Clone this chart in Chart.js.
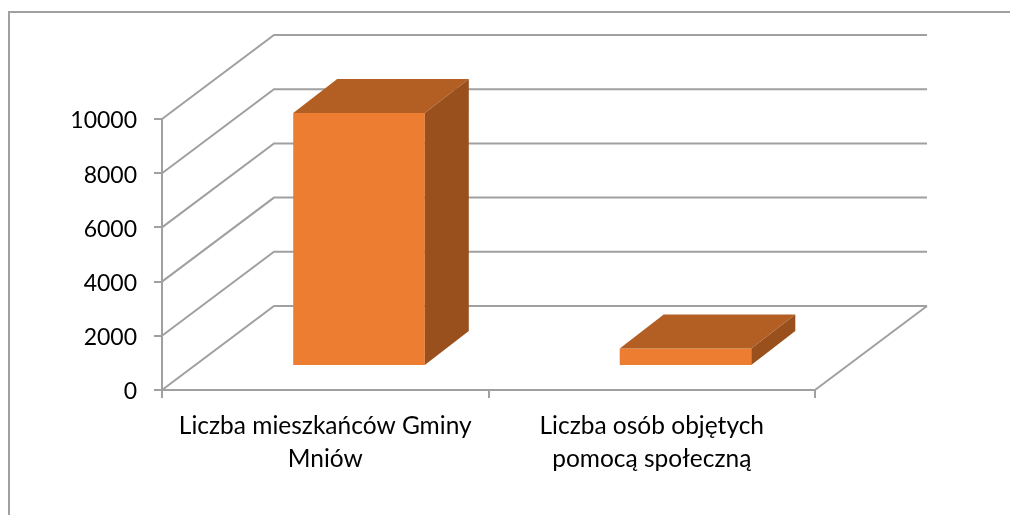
<!DOCTYPE html>
<html>
<head>
    <meta charset="utf-8">
    <title>Mniów</title>
    <script src="https://cdn.jsdelivr.net/npm/chart.js"></script>
    <style>
        body { margin: 0; background: #fff; }
        .chart-container { position: relative; width: 1010px; height: 515px; }
    </style>
</head>
<body>
    <div class="chart-container"><canvas id="chart"></canvas></div>

    <script>
        const categories = [['Liczba mieszkańców Gminy', 'Mniów'], ['Liczba osób objętych', 'pomocą społeczną']];
        const values = [9340, 650];
        const yTicks = [0, 2000, 4000, 6000, 8000, 10000];

        const gridColor = '#a0a0a0';
        const labelFont = { family: 'Lato', size: 24.5, lineHeight: 1.347 };
        // depth of the fake 3D box
        const wallDx = 112, wallDy = 84;
        const barShiftX = 33.75, barShiftY = 24;
        const barDx = 44, barDy = 34;

        function poly(ctx, pts, fill) {
            ctx.beginPath();
            pts.forEach((p, i) => i ? ctx.lineTo(p[0], p[1]) : ctx.moveTo(p[0], p[1]));
            ctx.closePath();
            ctx.fillStyle = fill;
            ctx.fill();
        }

        const box3d = {
            id: 'box3d',
            beforeDraw(chart) {
                // y labels sit a little under their ticks in the original
                chart.scales.y.getLabelItems().forEach(item => { item.options.translation[1] += 2; });
            },
            beforeDatasetsDraw(chart) {
                const ctx = chart.ctx;
                const { left, right } = chart.chartArea;
                const y = chart.scales.y;
                ctx.save();
                ctx.strokeStyle = gridColor;
                ctx.lineWidth = 2;
                // outer frame, top and left only
                ctx.beginPath();
                ctx.moveTo(9, 515);
                ctx.lineTo(9, 12);
                ctx.lineTo(1010, 12);
                ctx.stroke();
                // walls
                yTicks.forEach(v => {
                    const py = y.getPixelForValue(v);
                    ctx.beginPath();
                    ctx.moveTo(left, py);
                    ctx.lineTo(left + wallDx, py - wallDy);
                    ctx.lineTo(right + wallDx, py - wallDy);
                    ctx.stroke();
                });
                const y0 = y.getPixelForValue(0);
                ctx.beginPath();
                ctx.moveTo(right + wallDx, y0 - wallDy);
                ctx.lineTo(right, y0);
                ctx.stroke();
                ctx.restore();
            },
            beforeDatasetDraw(chart) {
                chart.ctx.save();
                chart.ctx.translate(barShiftX, -barShiftY);
            },
            afterDatasetDraw(chart, args) {
                const ctx = chart.ctx;
                ctx.restore();
                args.meta.data.forEach(bar => {
                    const l = bar.x - bar.width / 2 + barShiftX;
                    const r = bar.x + bar.width / 2 + barShiftX;
                    const t = bar.y - barShiftY;
                    const b = bar.base - barShiftY;
                    poly(ctx, [[l, t], [r, t], [r + barDx, t - barDy], [l + barDx, t - barDy]], '#b35f24');
                    poly(ctx, [[r, t], [r + barDx, t - barDy], [r + barDx, b - barDy], [r, b]], '#9a501d');
                });
            }
        };

        new Chart(document.getElementById('chart'), {
            type: 'bar',
            data: {
                labels: categories,
                datasets: [{
                    data: values,
                    backgroundColor: '#ed7d31',
                    barPercentage: 0.403,
                    categoryPercentage: 1,
                    clip: false
                }]
            },
            options: {
                responsive: true,
                maintainAspectRatio: false,
                animation: false,
                layout: { padding: { top: 119, right: 195, bottom: 0, left: 0 } },
                plugins: { legend: { display: false }, tooltip: { enabled: false } },
                scales: {
                    x: {
                        afterFit: s => { s.height = 125; },
                        grid: { drawOnChartArea: false, color: gridColor, lineWidth: 2, tickLength: 8 },
                        border: { color: gridColor, width: 2 },
                        ticks: { color: '#000', font: labelFont, padding: 12, maxRotation: 0 }
                    },
                    y: {
                        min: 0,
                        max: 10000,
                        afterFit: s => { s.width = 162; },
                        afterBuildTicks: s => { s.ticks = yTicks.map(v => ({ value: v })); },
                        grid: { drawOnChartArea: false, color: gridColor, lineWidth: 2, tickLength: 8 },
                        border: { color: gridColor, width: 2 },
                        ticks: {
                            color: '#000',
                            font: { family: 'Lato', size: 23 },
                            padding: 17,
                            callback: v => String(v)
                        }
                    }
                }
            },
            plugins: [box3d]
        });
    </script>
</body>
</html>
